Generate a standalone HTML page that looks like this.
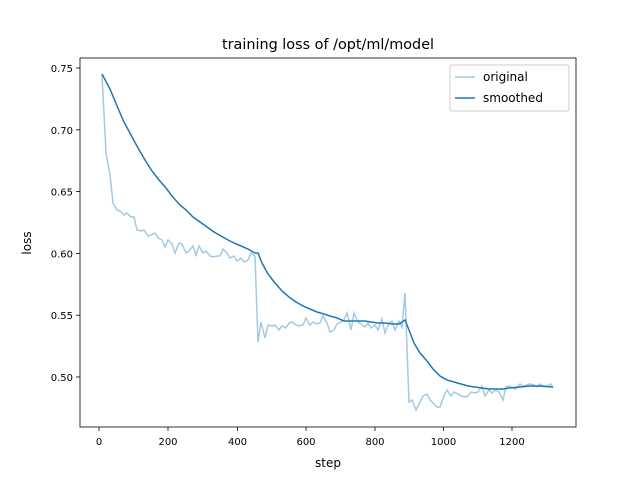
<!DOCTYPE html>
<html><head><style>body{margin:0;background:#fff}</style></head><body>
<svg width="640" height="480" xmlns="http://www.w3.org/2000/svg" font-family="'DejaVu Sans', 'Liberation Sans', sans-serif">
<rect width="640" height="480" fill="#fff"/>
<text x="328" y="49" font-size="14.4" text-anchor="middle">training loss of /opt/ml/model</text>
<polyline fill="none" stroke="#1f77b4" stroke-opacity="0.4" stroke-width="1.5" points="102,75 106,153 110,175 113,203 117,210 120,211 124,215 127,213 131,217 134,217 137,230 141,231 144,230 148,236 151,235 155,233 158,238 162,240 165,247 168,240 172,244 175,253 179,243 182,244 186,253 189,251 193,246 196,255 199,246 203,253 206,251 210,256 213,257 217,256 220,256 223,249 227,253 230,258 234,256 237,261 241,258 244,262 248,260 251,253 255,256 258,342 261,322 265,338 268,325 272,326 275,325 279,330 282,326 286,328 289,323 292,322 296,325 299,326 303,325 306,318 310,325 313,322 317,324 320,323 323,316 327,323 330,332 334,330 337,324 341,322 344,320 347,313 351,330 354,313 358,322 361,324 365,327 368,323 371,328 375,325 378,330 382,319 385,333 389,323 392,321 395,330 399,321 402,327 405,293 409,402 412,400 416,410 420,402 423,396 427,394 430,400 433,403 437,407 440,407 444,396 447,390 451,396 454,392 458,394 461,396 465,397 468,396 471,392 475,393 478,392 482,386 485,396 489,390 492,393 496,390 499,392 503,400 506,387 509,386 513,388 516,389 520,384 523,386 527,385 530,384 534,385 537,387 540,384 544,387 547,386 551,384 553,388"/>
<polyline fill="none" stroke="#1f77b4" stroke-width="1.5" points="102,74 110,89 117,106 124,122 131,135 138,148 145,160 152,171 159,180 166,188 172,196 179,204 186,210 193,217 200,222 207,227 214,232 221,236 228,240 234,243 241,246 248,249 255,253 258,253 262,263 268,274 275,283 282,291 289,297 296,302 303,306 310,309 317,312 324,314 330,316 337,318 344,321 351,321 358,321 365,321 371,322 378,323 385,323 392,324 399,324 405,320 409,330 414,343 420,353 427,361 433,369 440,376 447,380 454,382 461,384 468,386 475,387 482,388 489,389 496,389 503,389 509,388 520,387 530,386 540,386 553,387"/>
<rect x="80" y="58" width="496" height="369" fill="none" stroke="#000" stroke-width="0.8"/>
<g stroke="#000" stroke-width="0.8">
<line x1="99" y1="427" x2="99" y2="431"/><line x1="168" y1="427" x2="168" y2="431"/><line x1="237.5" y1="427" x2="237.5" y2="431"/><line x1="306" y1="427" x2="306" y2="431"/><line x1="375" y1="427" x2="375" y2="431"/><line x1="443.5" y1="427" x2="443.5" y2="431"/><line x1="512" y1="427" x2="512" y2="431"/>
<line x1="76" y1="68" x2="80" y2="68"/><line x1="76" y1="129.8" x2="80" y2="129.8"/><line x1="76" y1="191.6" x2="80" y2="191.6"/><line x1="76" y1="253.4" x2="80" y2="253.4"/><line x1="76" y1="315.2" x2="80" y2="315.2"/><line x1="76" y1="377" x2="80" y2="377"/>
</g>
<g font-size="10" text-anchor="middle">
<text x="99" y="445">0</text><text x="168" y="445">200</text><text x="237.5" y="445">400</text><text x="306" y="445">600</text><text x="375" y="445">800</text><text x="443.5" y="445">1000</text><text x="512" y="445">1200</text>
<text x="328" y="467" font-size="12">step</text>
</g>
<g font-size="10" text-anchor="end">
<text x="73" y="72">0.75</text><text x="73" y="133.8">0.70</text><text x="73" y="195.6">0.65</text><text x="73" y="257.4">0.60</text><text x="73" y="319.2">0.55</text><text x="73" y="381">0.50</text>
</g>
<text transform="translate(31,243) rotate(-90)" font-size="12" text-anchor="middle">loss</text>
<rect x="450" y="65" width="119" height="46" rx="2" fill="#fff" fill-opacity="0.8" stroke="#ccc"/>
<line x1="455" y1="77" x2="475" y2="77" stroke="#1f77b4" stroke-opacity="0.4" stroke-width="1.5"/>
<line x1="455" y1="98" x2="475" y2="98" stroke="#1f77b4" stroke-width="1.5"/>
<text x="483" y="81" font-size="12">original</text>
<text x="483" y="102" font-size="12">smoothed</text>
</svg>
</body></html>
